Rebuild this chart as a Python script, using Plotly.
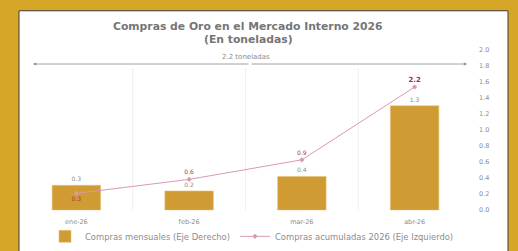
import plotly.graph_objects as go

W, H = 518, 251
months = ["ene-26", "feb-26", "mar-26", "abr-26"]
monthly = [0.31, 0.24, 0.42, 1.30]
monthly_labels = ["0.3", "0.2", "0.4", "1.3"]
cumulative = [0.30, 0.55, 0.90, 2.20]
cumulative_labels = ["0.3", "0.6", "0.9", "<b>2.2</b>"]
right_ticks = [0.0, 0.2, 0.4, 0.6, 0.8, 1.0, 1.2, 1.4, 1.6, 1.8, 2.0]
title_lines = ["Compras de Oro en el Mercado Interno 2026", "(En toneladas)"]
total_text = "2.2 toneladas"

def px(x):
    return x / W

def py(y):
    return 1 - y / H

GOLD = "#D6A628"
BAR = "#D19B34"
LINE = "#D99AAE"
GREY = "#8C8C8C"
FONT = "DejaVu Sans"

fig = go.Figure()
fig.add_trace(go.Bar(
    x=months, y=monthly, name="Compras mensuales (Eje Derecho)",
    marker=dict(color=BAR, line=dict(color="#E6C27A", width=0.6)),
    width=0.43, text=monthly_labels, textposition="outside",
    textfont=dict(size=6, color=GREY), cliponaxis=False, yaxis="y",
))
fig.add_trace(go.Scatter(
    x=months, y=cumulative, name="Compras acumuladas 2026 (Eje Izquierdo)",
    mode="lines+markers+text",
    line=dict(color=LINE, width=1),
    marker=dict(size=4, color=LINE, symbol="diamond"),
    text=cumulative_labels,
    textposition=["bottom center", "top center", "top center", "top center"],
    textfont=dict(size=[6, 6, 6, 7], color=["#9A4050", "#9A4050", "#9A4050", "#B0283A"]),
    cliponaxis=False, yaxis="y2",
))

fig.update_layout(
    width=W, height=H, margin=dict(l=0, r=0, t=0, b=0),
    paper_bgcolor=GOLD, plot_bgcolor="rgba(0,0,0,0)",
    font=dict(family=FONT, color=GREY, size=6),
    bargap=0.57,
    xaxis=dict(domain=[px(20), px(471)], showgrid=False, showline=False,
               ticks="", tickfont=dict(size=6.5, color=GREY), ticklabelstandoff=6),
    yaxis=dict(domain=[py(213), py(47)], side="right", range=[0, 2.0],
               tickvals=right_ticks, tickformat=".1f", showgrid=False,
               zeroline=False, showline=False, tickfont=dict(size=6.5, color=GREY),
               ticklabelstandoff=7),
    yaxis2=dict(overlaying="y", range=[0, 2.87], visible=False),
    showlegend=True,
    legend=dict(orientation="h", x=px(252), xanchor="center", y=py(240),
                yanchor="middle", font=dict(size=8.4, color=GREY),
                bgcolor="rgba(0,0,0,0)", itemwidth=30, tracegroupgap=0),
)

# white panel with dark border
fig.add_shape(type="rect", xref="paper", yref="paper",
              x0=px(19), x1=px(508), y0=py(260), y1=py(7),
              fillcolor="white", line=dict(color="#3a3a3a", width=1), layer="below")
# vertical faint gridlines at category boundaries
for b in [0.5, 1.5, 2.5]:
    fig.add_shape(type="line", xref="x", yref="paper", x0=b, x1=b,
                  y0=py(213), y1=py(66), line=dict(color="#EFEFEF", width=1), layer="below")

# title
fig.add_annotation(xref="paper", yref="paper", x=px(248), y=py(14), showarrow=False,
                   text="<b>" + title_lines[0] + "</b>", font=dict(size=10.8, color="#767676", family=FONT))
fig.add_annotation(xref="paper", yref="paper", x=px(248), y=py(28), showarrow=False,
                   text="<b>" + title_lines[1] + "</b>", font=dict(size=10.8, color="#767676", family=FONT))

# double arrow across top
for xe in [33, 467]:
    fig.add_annotation(xref="paper", yref="paper", x=px(xe), y=py(62),
                       ax=(250 - xe), ay=0, axref="pixel", ayref="pixel",
                       showarrow=True, arrowhead=2, arrowsize=0.8, arrowwidth=0.8,
                       arrowcolor="#8C8C8C", text="")
fig.add_annotation(xref="paper", yref="paper", x=px(246), y=py(60), yanchor="bottom",
                   showarrow=False, borderpad=0,
                   text=total_text, font=dict(size=7, color=GREY, family=FONT))

fig.write_html("out.html", config={"displayModeBar": False},
               post_script="document.body.style.margin='0';document.body.style.padding='0';")
